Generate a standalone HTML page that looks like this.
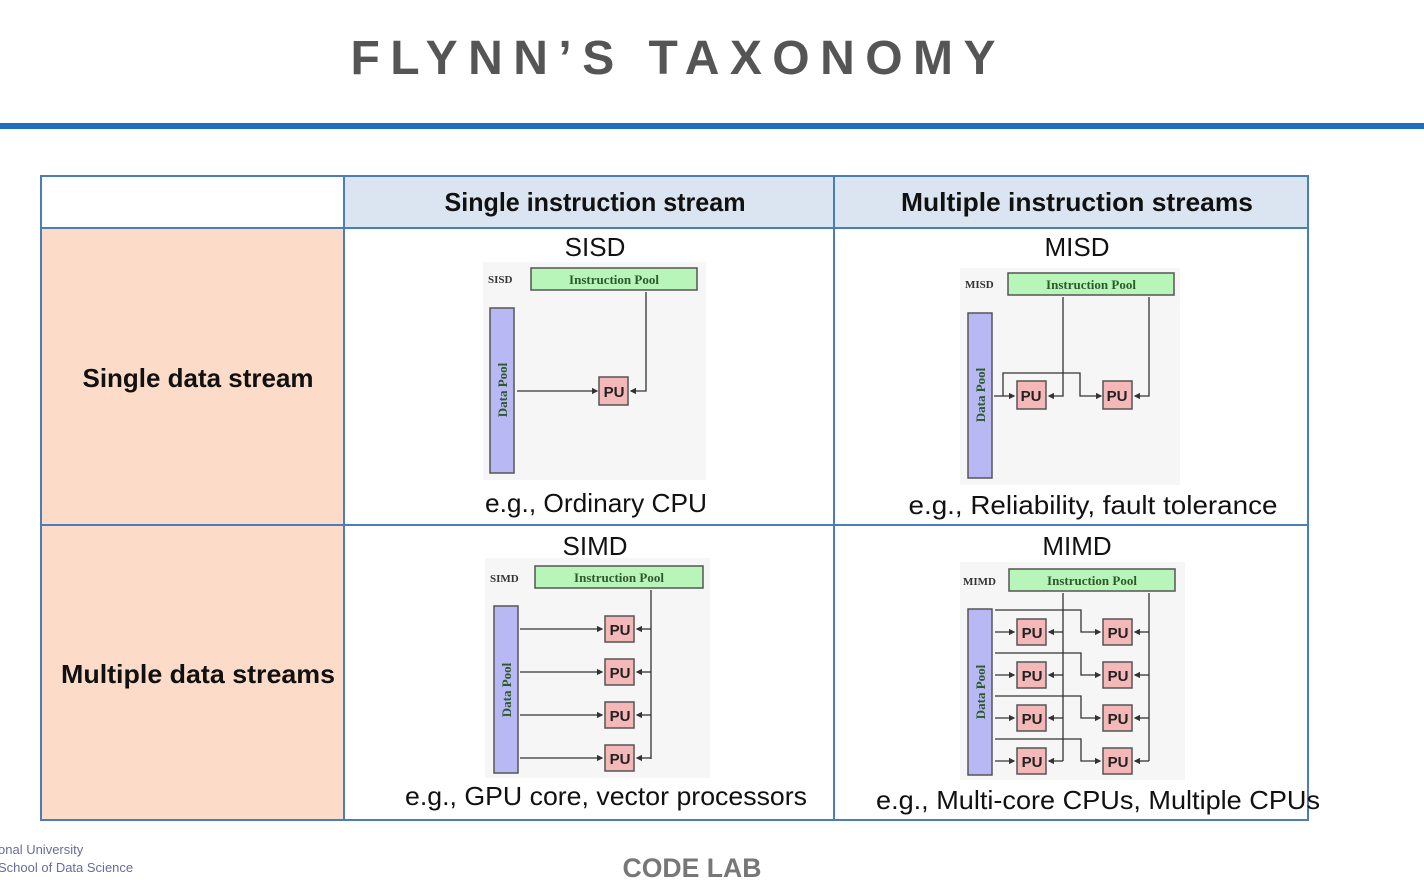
<!DOCTYPE html>
<html><head><meta charset="utf-8"><style>
html,body{margin:0;padding:0;background:#fff;}
svg{display:block}
text{font-family:"Liberation Sans",sans-serif}
.s{font-family:"Liberation Serif",serif;fill:#2d5a2d;font-size:13px;font-weight:bold}
.lab{font-family:"Liberation Serif",serif;fill:#333;font-size:11px;font-weight:bold}
.pu{font-family:"Liberation Sans",sans-serif;font-size:15px;fill:#222;text-anchor:middle;font-weight:bold}
</style></head><body>
<svg width="1424" height="882" viewBox="0 0 1424 882" xmlns="http://www.w3.org/2000/svg">
<defs>
<marker id="a" markerWidth="5" markerHeight="5" refX="4" refY="2.5" orient="auto"><path d="M0,0 L5,2.5 L0,5 z" fill="#333"/></marker>
</defs>
<text x="673" y="74" text-anchor="middle" font-size="48" font-weight="bold" fill="#555" textLength="645" lengthAdjust="spacing">FLYNN’S TAXONOMY</text>
<rect x="0" y="123" width="1424" height="6" fill="#1f6fc0"/>

<!-- table -->
<rect x="344" y="177" width="964" height="51" fill="#dbe5f1"/>
<rect x="42" y="228" width="302" height="592" fill="#fcdcc9"/>
<g stroke="#4a7ebb" stroke-width="2" fill="none">
<rect x="41" y="176" width="1267" height="644"/>
<line x1="344" y1="176" x2="344" y2="820"/>
<line x1="834" y1="176" x2="834" y2="820"/>
<line x1="41" y1="228" x2="1308" y2="228"/>
<line x1="41" y1="525" x2="1308" y2="525"/>
</g>
<g font-weight="bold" font-size="26" fill="#111" text-anchor="middle">
<text x="595" y="211" textLength="301" lengthAdjust="spacingAndGlyphs">Single instruction stream</text>
<text x="1077" y="211" textLength="352" lengthAdjust="spacingAndGlyphs">Multiple instruction streams</text>
<text x="198" y="387" textLength="231" lengthAdjust="spacingAndGlyphs">Single data stream</text>
<text x="198" y="683" textLength="274" lengthAdjust="spacingAndGlyphs">Multiple data streams</text>
</g>
<g font-size="26" fill="#111" text-anchor="middle">
<text x="595" y="256">SISD</text>
<text x="1077" y="256">MISD</text>
<text x="595" y="555">SIMD</text>
<text x="1077" y="555">MIMD</text>
<text x="596" y="512" textLength="222" lengthAdjust="spacingAndGlyphs">e.g., Ordinary CPU</text>
<text x="1093" y="514" textLength="369" lengthAdjust="spacingAndGlyphs">e.g., Reliability, fault tolerance</text>
<text x="606" y="805" textLength="402" lengthAdjust="spacingAndGlyphs">e.g., GPU core, vector processors</text>
<text x="1098" y="809" textLength="444" lengthAdjust="spacingAndGlyphs">e.g., Multi-core CPUs, Multiple CPUs</text>
</g>

<!-- SISD -->
<rect x="483" y="262" width="223" height="218" fill="#f6f6f6"/>
<text class="lab" x="488" y="283">SISD</text>
<rect x="531" y="268" width="166" height="22" fill="#b8f5b8" stroke="#555" stroke-width="1.5"/>
<text class="s" x="614" y="284" text-anchor="middle">Instruction Pool</text>
<rect x="490" y="308" width="24" height="165" fill="#b8b8f5" stroke="#555" stroke-width="1.5"/>
<text class="s" transform="translate(507,390) rotate(-90)" text-anchor="middle" fill="#444">Data Pool</text>
<g stroke="#333" stroke-width="1.3" fill="none">
<line x1="517" y1="391" x2="597" y2="391" marker-end="url(#a)"/>
<polyline points="646,292 646,391 631,391" marker-end="url(#a)"/>
</g>
<rect x="599" y="377" width="29" height="28" fill="#f5b8b8" stroke="#555" stroke-width="1.5"/><text class="pu" x="614" y="397">PU</text>

<!-- MISD -->
<rect x="960" y="268" width="220" height="217" fill="#f6f6f6"/>
<text class="lab" x="965" y="288">MISD</text>
<rect x="1008" y="273" width="166" height="22" fill="#b8f5b8" stroke="#555" stroke-width="1.5"/>
<text class="s" x="1091" y="289" text-anchor="middle">Instruction Pool</text>
<rect x="968" y="313" width="24" height="165" fill="#b8b8f5" stroke="#555" stroke-width="1.5"/>
<text class="s" transform="translate(985,395) rotate(-90)" text-anchor="middle" fill="#444">Data Pool</text>
<g stroke="#333" stroke-width="1.3" fill="none">
<line x1="994" y1="396" x2="1014" y2="396" marker-end="url(#a)"/>
<polyline points="1003,396 1003,373 1080,373 1080,396 1101,396" marker-end="url(#a)"/>
<polyline points="1063,297 1063,396 1049,396" marker-end="url(#a)"/>
<polyline points="1149,297 1149,396 1135,396" marker-end="url(#a)"/>
</g>
<rect x="1017" y="381" width="29" height="28" fill="#f5b8b8" stroke="#555" stroke-width="1.5"/><text class="pu" x="1031" y="401">PU</text>
<rect x="1103" y="381" width="29" height="28" fill="#f5b8b8" stroke="#555" stroke-width="1.5"/><text class="pu" x="1117" y="401">PU</text>

<!-- SIMD -->
<rect x="485" y="558" width="225" height="220" fill="#f6f6f6"/>
<text class="lab" x="490" y="582">SIMD</text>
<rect x="535" y="566" width="168" height="22" fill="#b8f5b8" stroke="#555" stroke-width="1.5"/>
<text class="s" x="619" y="582" text-anchor="middle">Instruction Pool</text>
<rect x="494" y="606" width="24" height="167" fill="#b8b8f5" stroke="#555" stroke-width="1.5"/>
<text class="s" transform="translate(511,690) rotate(-90)" text-anchor="middle" fill="#444">Data Pool</text>
<g stroke="#333" stroke-width="1.3" fill="none">
<line x1="651" y1="590" x2="651" y2="759"/>
<line x1="520" y1="629" x2="602" y2="629" marker-end="url(#a)"/>
<line x1="520" y1="672" x2="602" y2="672" marker-end="url(#a)"/>
<line x1="520" y1="715" x2="602" y2="715" marker-end="url(#a)"/>
<line x1="520" y1="758" x2="602" y2="758" marker-end="url(#a)"/>
<line x1="651" y1="629" x2="637" y2="629" marker-end="url(#a)"/>
<line x1="651" y1="672" x2="637" y2="672" marker-end="url(#a)"/>
<line x1="651" y1="715" x2="637" y2="715" marker-end="url(#a)"/>
<line x1="651" y1="758" x2="637" y2="758" marker-end="url(#a)"/>
</g>
<g fill="#f5b8b8" stroke="#555" stroke-width="1.5">
<rect x="605" y="616" width="29" height="26"/><rect x="605" y="659" width="29" height="26"/><rect x="605" y="702" width="29" height="26"/><rect x="605" y="745" width="29" height="26"/>
</g>
<text class="pu" x="620" y="635">PU</text><text class="pu" x="620" y="678">PU</text><text class="pu" x="620" y="721">PU</text><text class="pu" x="620" y="764">PU</text>

<!-- MIMD -->
<rect x="960" y="562" width="225" height="218" fill="#f6f6f6"/>
<text class="lab" x="963" y="585">MIMD</text>
<rect x="1009" y="569" width="166" height="22" fill="#b8f5b8" stroke="#555" stroke-width="1.5"/>
<text class="s" x="1092" y="585" text-anchor="middle">Instruction Pool</text>
<rect x="968" y="609" width="24" height="166" fill="#b8b8f5" stroke="#555" stroke-width="1.5"/>
<text class="s" transform="translate(985,692) rotate(-90)" text-anchor="middle" fill="#444">Data Pool</text>
<g stroke="#333" stroke-width="1.3" fill="none">
<line x1="1063" y1="593" x2="1063" y2="761"/>
<line x1="1149" y1="593" x2="1149" y2="761"/>
<g id="r1">
<line x1="995" y1="632" x2="1014" y2="632" marker-end="url(#a)"/>
<polyline points="995,610 1081,610 1081,632 1100,632" marker-end="url(#a)"/>
<line x1="1063" y1="632" x2="1049" y2="632" marker-end="url(#a)"/>
<line x1="1149" y1="632" x2="1135" y2="632" marker-end="url(#a)"/>
</g>
<use href="#r1" y="43"/><use href="#r1" y="86"/><use href="#r1" y="129"/>
</g>
<g id="p1"><rect x="1017" y="619" width="29" height="26" fill="#f5b8b8" stroke="#555" stroke-width="1.5"/><text class="pu" x="1032" y="638">PU</text>
<rect x="1103" y="619" width="29" height="26" fill="#f5b8b8" stroke="#555" stroke-width="1.5"/><text class="pu" x="1118" y="638">PU</text></g>
<use href="#p1" y="43"/><use href="#p1" y="86"/><use href="#p1" y="129"/>

<!-- footer -->
<text x="-2" y="854" font-size="13" fill="#6a6a9a">onal University</text>
<text x="-2" y="872" font-size="13" fill="#6a6a9a">School of Data Science</text>
<text x="692" y="877" text-anchor="middle" font-size="27" font-weight="bold" fill="#777" textLength="139" lengthAdjust="spacingAndGlyphs">CODE LAB</text>
</svg>
</body></html>
